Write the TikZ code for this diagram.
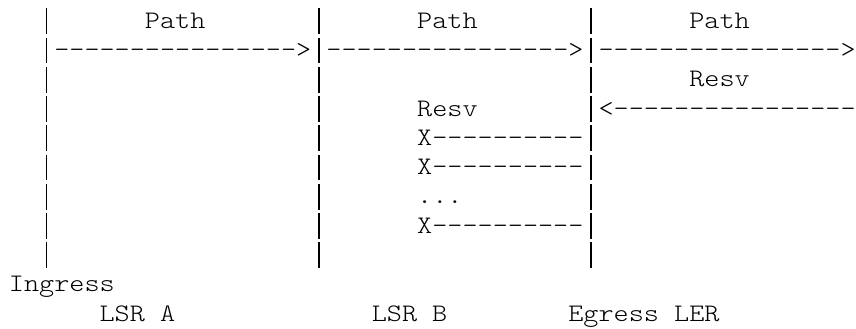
\documentclass[tikz,border=0pt]{standalone}
\usepackage{fontspec}
\usepackage{tikz}
\newfontfamily\asciifont[Ligatures=TeXOff,FakeStretch=1.143]{lmmonolt10-regular.otf}

\tikzset{
  ascii/.style={font=\asciifont\fontsize{25.2pt}{29pt}\selectfont,
    anchor=base west, inner sep=0pt, outer sep=0pt, text=black},
  lifeline/.style={line width=1.3pt, draw=black,
    dash pattern=on 25.8pt off 3.47pt}
}

\begin{document}
\begin{tikzpicture}[x=15.12pt, y=-29.27pt, every node/.style={ascii}]
			\useasboundingbox (-8.9pt, 28.3pt) rectangle (847.1pt, -300.7pt);

			% lifelines
			\coordinate (aTop) at (2.5, -0.683);
			\coordinate (aBot) at (2.5, 8.198);
			\coordinate (bTop) at (20.5, -0.683);
			\coordinate (bBot) at (20.5, 8.198);
			\coordinate (cTop) at (38.5, -0.683);
			\coordinate (cBot) at (38.5, 8.198);

			\node (pathA) at (9, 0) {Path};
			\node (pathB) at (27, 0) {Path};
			\node (pathC) at (45, 0) {Path};
			\node (pathArrA) at (3, 1) {---------------->};
			\node (pathArrB) at (21, 1) {---------------->};
			\node (pathArrC) at (39, 1) {---------------->};
			\node (resvC) at (45, 2) {Resv};
			\node (resvB) at (27, 3) {Resv};
			\node (resvArr) at (39, 3) {<----------------};
			\node (lostA) at (27, 4) {X----------};
			\node (lostB) at (27, 5) {X----------};
			\node (dots) at (27, 6) {...};
			\node (lostC) at (27, 7) {X----------};
			\node (ingress) at (0, 9) {Ingress};
			\node (lsrA) at (6, 10) {LSR A};
			\node (lsrB) at (24, 10) {LSR B};
			\node (egress) at (37, 10) {Egress LER};

			\draw [lifeline] (aTop) to (aBot);
			\draw [lifeline] (bTop) to (bBot);
			\draw [lifeline] (cTop) to (cBot);
		\end{tikzpicture}
\end{document}
